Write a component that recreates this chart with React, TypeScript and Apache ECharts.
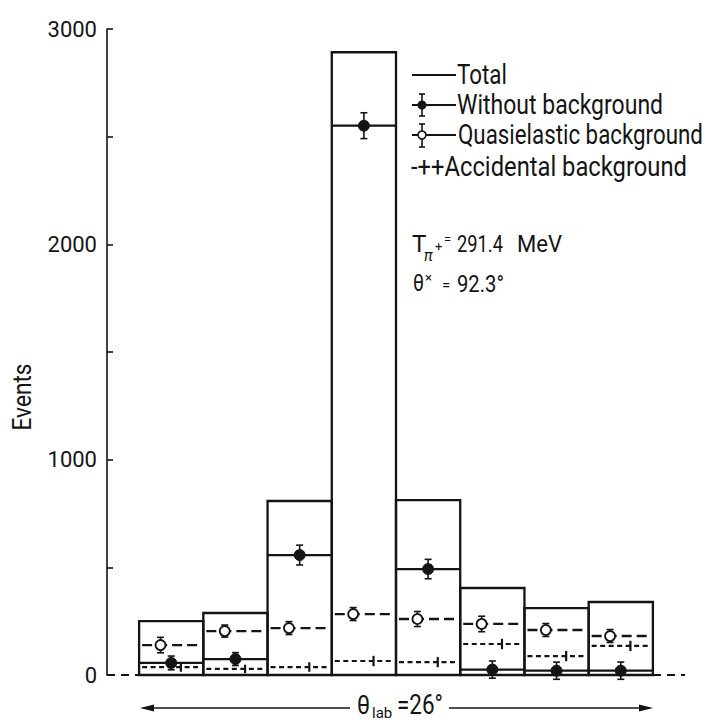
import React, { useEffect, useRef } from "react";
import * as echarts from "echarts";

// ---- data ----
const binIndex = [0, 1, 2, 3, 4, 5, 6, 7];
const totalCounts = [250, 288, 808, 2892, 812, 404, 311, 339];
const withoutBg = [56, 74, 557, 2551, 492, 25, 20, 20];
const withoutBgErr = [32, 30, 46, 60, 45, 40, 40, 40];
const quasiBg = [139, 204, 218, 283, 260, 237, 209, 181];
const quasiErr = [36, 28, 30, 30, 35, 36, 30, 30];
const accidentalBg = [37, 28, 37, 65, 60, 144, 88, 135];
const accidentalErr = [22, 20, 22, 24, 24, 24, 24, 24];
const yTicks = [0, 1000, 2000, 3000];

const FONT = "Roboto, 'Liberation Sans', sans-serif";
const INK = "#141414";

let measureCtx: CanvasRenderingContext2D | null = null;
function measure(text: string, size: number): number {
  if (!measureCtx) measureCtx = document.createElement("canvas").getContext("2d");
  if (!measureCtx) return text.length * size * 0.5;
  measureCtx.font = `${size}px Roboto`;
  return measureCtx.measureText(text).width;
}

// text element; if a target width is given, the text is condensed horizontally to it
function txt(text: string, x: number, y: number, size: number, width?: number, extra: any = {}) {
  const sx = width ? Math.min(1, width / measure(text, size)) : 1;
  return {
    type: "text",
    x,
    y,
    scaleX: sx,
    ...extra.el,
    style: { text, fontFamily: FONT, fontSize: size, fill: INK, verticalAlign: "middle", ...extra.style },
  };
}

export default function App() {
  const ref = useRef<HTMLDivElement>(null);
  useEffect(() => {
    if (!ref.current) return;
    const chart = echarts.init(ref.current, null, { renderer: "svg" });

    const errBar = (api: any, x: number, v: number, e: number, cap: number) => {
      const top = api.coord([x, v + e]);
      const bot = api.coord([x, v - e]);
      return [
        { type: "line", shape: { x1: top[0], y1: top[1], x2: bot[0], y2: bot[1] }, style: { stroke: INK, lineWidth: 1.6 } },
        { type: "line", shape: { x1: top[0] - cap, y1: top[1], x2: top[0] + cap, y2: top[1] }, style: { stroke: INK, lineWidth: 1.6 } },
        { type: "line", shape: { x1: bot[0] - cap, y1: bot[1], x2: bot[0] + cap, y2: bot[1] }, style: { stroke: INK, lineWidth: 1.6 } },
      ];
    };

    const evW = measure("Events", 25);
    const option: any = {
      animation: false,
      backgroundColor: "#fff",
      grid: { left: 107, top: 29, width: 578, height: 646 },
      xAxis: { type: "value", min: -0.5, max: 8.5, show: false },
      yAxis: {
        type: "value",
        min: 0,
        max: 3000,
        interval: 500,
        axisLine: { show: true, onZero: false, lineStyle: { color: INK, width: 1.6 } },
        axisTick: { show: true, inside: true, length: 6, lineStyle: { color: INK, width: 1.6 } },
        splitLine: { show: false },
        axisLabel: {
          color: INK,
          fontFamily: FONT,
          fontSize: 22,
          margin: 10,
          formatter: (v: number) => (yTicks.includes(v) ? String(v) : ""),
        },
      },
      series: [
        {
          type: "custom",
          name: "baseline",
          data: [[0, 0]],
          silent: true,
          z: 1,
          renderItem: (_p: any, api: any) => {
            const a = api.coord([-0.5, 0]);
            const b = api.coord([8.5, 0]);
            return { type: "line", shape: { x1: a[0], y1: a[1], x2: b[0], y2: b[1] }, style: { stroke: INK, lineWidth: 1.8, lineDash: [8, 6] } };
          },
        },
        {
          type: "custom",
          name: "Total",
          data: binIndex.map((i) => [i, totalCounts[i]]),
          z: 3,
          renderItem: (_p: any, api: any) => {
            const i = api.value(0);
            const v = api.value(1);
            const p0 = api.coord([i, 0]);
            const p1 = api.coord([i + 1, v]);
            return {
              type: "rect",
              shape: { x: p0[0], y: p1[1], width: p1[0] - p0[0], height: p0[1] - p1[1] },
              style: { fill: "none", stroke: INK, lineWidth: 2.3 },
            };
          },
        },
        {
          type: "custom",
          name: "Accidental background",
          data: binIndex.map((i) => [i, accidentalBg[i], accidentalErr[i]]),
          z: 4,
          renderItem: (_p: any, api: any) => {
            const i = api.value(0);
            const v = api.value(1);
            const e = api.value(2);
            const a = api.coord([i, v]);
            const b = api.coord([i + 1, v]);
            const t1 = api.coord([i + 0.65, v + e]);
            const t2 = api.coord([i + 0.65, v - e]);
            return {
              type: "group",
              children: [
                { type: "line", shape: { x1: a[0] + 3, y1: a[1], x2: b[0] - 2, y2: b[1] }, style: { stroke: INK, lineWidth: 2.2, lineDash: [5, 3.5] } },
                { type: "line", shape: { x1: t1[0], y1: t1[1], x2: t2[0], y2: t2[1] }, style: { stroke: INK, lineWidth: 2.2 } },
              ],
            };
          },
        },
        {
          type: "custom",
          name: "Quasielastic background",
          data: binIndex.map((i) => [i, quasiBg[i], quasiErr[i]]),
          z: 5,
          renderItem: (_p: any, api: any) => {
            const i = api.value(0);
            const v = api.value(1);
            const e = api.value(2);
            const a = api.coord([i, v]);
            const b = api.coord([i + 1, v]);
            const c = api.coord([i + 1 / 3, v]);
            return {
              type: "group",
              children: [
                { type: "line", shape: { x1: a[0] + 3, y1: a[1], x2: b[0] - 2, y2: b[1] }, style: { stroke: INK, lineWidth: 2.3, lineDash: [10, 5] } },
                ...errBar(api, i + 1 / 3, v, e, 3.5),
                { type: "circle", shape: { cx: c[0], cy: c[1], r: 5 }, style: { fill: "#fff", stroke: INK, lineWidth: 1.8 } },
              ],
            };
          },
        },
        {
          type: "custom",
          name: "Without background",
          data: binIndex.map((i) => [i, withoutBg[i], withoutBgErr[i]]),
          z: 6,
          renderItem: (_p: any, api: any) => {
            const i = api.value(0);
            const v = api.value(1);
            const e = api.value(2);
            const a = api.coord([i, v]);
            const b = api.coord([i + 1, v]);
            const c = api.coord([i + 0.5, v]);
            return {
              type: "group",
              children: [
                { type: "line", shape: { x1: a[0], y1: a[1], x2: b[0], y2: b[1] }, style: { stroke: INK, lineWidth: 2.3 } },
                ...errBar(api, i + 0.5, v, e, 3.5),
                { type: "circle", shape: { cx: c[0], cy: c[1], r: 5.5 }, style: { fill: INK, stroke: INK, lineWidth: 1 } },
              ],
            };
          },
        },
      ],
      graphic: [
        // y-axis name
        {
          type: "text",
          x: 23,
          y: 397,
          rotation: Math.PI / 2,
          scaleX: Math.min(1, 67 / evW),
          style: { text: "Events", fontFamily: FONT, fontSize: 25, fill: INK, align: "center", verticalAlign: "middle" },
        },
        // legend
        { type: "line", shape: { x1: 412, y1: 75, x2: 456, y2: 75 }, style: { stroke: INK, lineWidth: 2 } },
        txt("Total", 457, 75, 27, 50),
        { type: "line", shape: { x1: 412, y1: 105, x2: 456, y2: 105 }, style: { stroke: INK, lineWidth: 2 } },
        { type: "line", shape: { x1: 422, y1: 94, x2: 422, y2: 116 }, style: { stroke: INK, lineWidth: 1.6 } },
        { type: "line", shape: { x1: 419, y1: 94, x2: 425, y2: 94 }, style: { stroke: INK, lineWidth: 1.6 } },
        { type: "line", shape: { x1: 419, y1: 116, x2: 425, y2: 116 }, style: { stroke: INK, lineWidth: 1.6 } },
        { type: "circle", shape: { cx: 422, cy: 105, r: 4.5 }, style: { fill: INK } },
        txt("Without background", 457, 105, 27, 206),
        { type: "line", shape: { x1: 412, y1: 135, x2: 456, y2: 135 }, style: { stroke: INK, lineWidth: 2 } },
        { type: "line", shape: { x1: 422, y1: 124, x2: 422, y2: 147 }, style: { stroke: INK, lineWidth: 1.6 } },
        { type: "line", shape: { x1: 419, y1: 124, x2: 425, y2: 124 }, style: { stroke: INK, lineWidth: 1.6 } },
        { type: "line", shape: { x1: 419, y1: 147, x2: 425, y2: 147 }, style: { stroke: INK, lineWidth: 1.6 } },
        { type: "circle", shape: { cx: 422, cy: 135, r: 4 }, style: { fill: "#fff", stroke: INK, lineWidth: 1.6 } },
        txt("Quasielastic background", 458, 135, 27, 245),
        txt("-++Accidental background", 411, 166, 27, 276),
        // annotation line 1
        txt("T", 412, 244, 24),
        txt("π", 424, 255, 17, 9, { style: { fontStyle: "italic" } }),
        txt("+", 435, 246, 13),
        txt("=", 444, 239, 13),
        txt("291.4", 457, 244, 24, 46),
        txt("MeV", 517, 244, 24, 45),
        // annotation line 2
        txt("θ", 413, 283, 24, 11),
        txt("×", 425, 277, 13),
        txt("=", 442, 285, 15),
        txt("92.3°", 457, 283, 24, 47),
        // bottom arrows and label
        { type: "line", shape: { x1: 143, y1: 708, x2: 350, y2: 708 }, style: { stroke: INK, lineWidth: 1.3 } },
        { type: "polygon", shape: { points: [[140, 708], [154, 704.5], [154, 711.5]] }, style: { fill: INK } },
        { type: "line", shape: { x1: 449, y1: 708, x2: 650, y2: 708 }, style: { stroke: INK, lineWidth: 1.3 } },
        { type: "polygon", shape: { points: [[653, 708], [639, 704.5], [639, 711.5]] }, style: { fill: INK } },
        txt("θ", 357, 705, 26, 13),
        txt("lab", 372, 713, 15, 22),
        txt("=26°", 397, 705, 27, 46),
      ],
    };
    chart.setOption(option);
    return () => chart.dispose();
  }, []);
  return <div ref={ref} style={{ position: "fixed", left: 0, top: 0, width: 709, height: 722, background: "#fff" }} />;
}
